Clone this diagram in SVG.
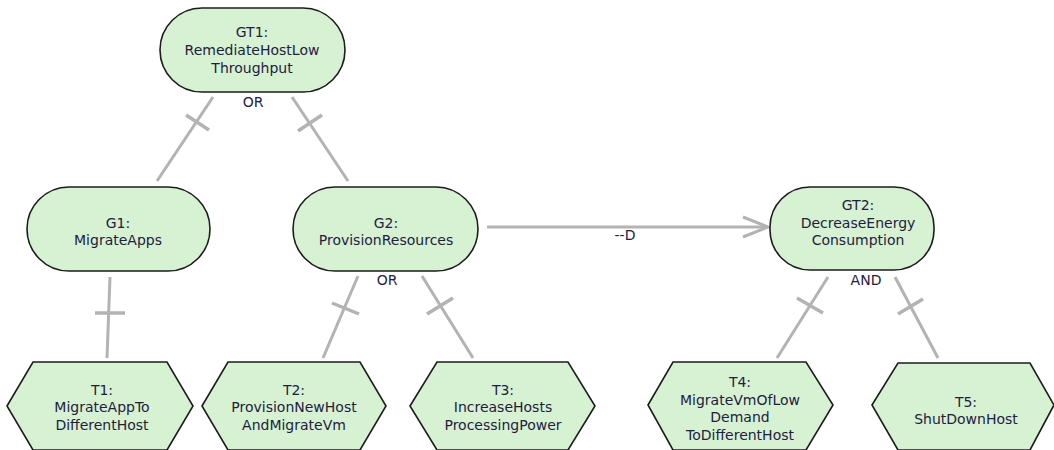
<svg xmlns="http://www.w3.org/2000/svg" width="1054" height="450" viewBox="0 0 1054 450">
  <style>
    .goal { fill: #d6f2d3; stroke: #1c1c1c; stroke-width: 1.6; }
    .task { fill: #d6f2d3; stroke: #1c1c1c; stroke-width: 1.6; stroke-linejoin: miter; }
    .lbl { font-family: "DejaVu Sans", "Noto Sans", sans-serif; font-size: 14px; fill: #1f2040; text-anchor: middle; }
    .link { stroke: #b3b3b3; stroke-width: 3; fill: none; stroke-linecap: butt; }
    .bar { stroke: #b3b3b3; stroke-width: 3.5; fill: none; }
  </style>
  <defs>
    <marker id="open-arrow" viewBox="0 0 28 24" refX="26" refY="12" markerWidth="28" markerHeight="24" markerUnits="userSpaceOnUse" orient="auto">
      <path d="M1,2 L26,12 L1,22" fill="none" stroke="#b3b3b3" stroke-width="3"/>
    </marker>
  </defs>
  <rect width="1054" height="450" fill="#ffffff"/>

  <!-- connectors: decomposition links with crossbars, and the dependency arrow -->
  <g id="connectors">
    <!-- GT1 -> G1 -->
    <line class="link" x1="213" y1="97" x2="157" y2="181"/>
    <line class="bar" x1="186" y1="115" x2="209" y2="130"/>
    <!-- GT1 -> G2 -->
    <line class="link" x1="292" y1="97" x2="348" y2="181"/>
    <line class="bar" x1="298" y1="131" x2="322" y2="115"/>
    <!-- G1 -> T1 -->
    <line class="link" x1="110" y1="277" x2="107" y2="358"/>
    <line class="bar" x1="95" y1="313" x2="125" y2="313"/>
    <!-- G2 -> T2 -->
    <line class="link" x1="358" y1="276" x2="323" y2="358"/>
    <line class="bar" x1="332" y1="303" x2="359" y2="314"/>
    <!-- G2 -> T3 -->
    <line class="link" x1="422" y1="276" x2="473" y2="358"/>
    <line class="bar" x1="427" y1="314" x2="453" y2="298"/>
    <!-- GT2 -> T4 -->
    <line class="link" x1="828" y1="277" x2="777" y2="358"/>
    <line class="bar" x1="797" y1="298" x2="823" y2="313"/>
    <!-- GT2 -> T5 -->
    <line class="link" x1="895" y1="277" x2="938" y2="358"/>
    <line class="bar" x1="898" y1="314" x2="923" y2="299"/>
    <!-- G2 depends on GT2 -->
    <line class="link" x1="487" y1="227" x2="768" y2="227" marker-end="url(#open-arrow)"/>
    <text class="lbl" x="625" y="240">--D</text>
  </g>

  <!-- goal nodes -->
  <g id="GT1">
    <rect class="goal" x="160" y="8" width="185" height="84" rx="42" ry="42"/>
    <text class="lbl" x="252" y="37">GT1:</text>
    <text class="lbl" x="252" y="55">RemediateHostLow</text>
    <text class="lbl" x="252" y="73">Throughput</text>
    <text class="lbl" x="253" y="107">OR</text>
  </g>
  <g id="G1">
    <rect class="goal" x="27" y="187" width="183" height="84" rx="42" ry="42"/>
    <text class="lbl" x="118" y="228">G1:</text>
    <text class="lbl" x="118" y="245">MigrateApps</text>
  </g>
  <g id="G2">
    <rect class="goal" x="293" y="187" width="185" height="84" rx="42" ry="42"/>
    <text class="lbl" x="386" y="228">G2:</text>
    <text class="lbl" x="386" y="245">ProvisionResources</text>
    <text class="lbl" x="387" y="285">OR</text>
  </g>
  <g id="GT2">
    <rect class="goal" x="770" y="187" width="164" height="83" rx="40" ry="40"/>
    <text class="lbl" x="858" y="210">GT2:</text>
    <text class="lbl" x="858" y="227.5">DecreaseEnergy</text>
    <text class="lbl" x="858" y="245">Consumption</text>
    <text class="lbl" x="866" y="285">AND</text>
  </g>

  <!-- task nodes -->
  <g id="T1">
    <polygon class="task" points="7,406 33,362 167,362 193,406 167,450 33,450"/>
    <text class="lbl" x="102" y="395">T1:</text>
    <text class="lbl" x="102" y="412">MigrateAppTo</text>
    <text class="lbl" x="102" y="430">DifferentHost</text>
  </g>
  <g id="T2">
    <polygon class="task" points="202,406 228,362 360,362 386,406 360,450 228,450"/>
    <text class="lbl" x="294" y="395">T2:</text>
    <text class="lbl" x="294" y="412">ProvisionNewHost</text>
    <text class="lbl" x="294" y="430">AndMigrateVm</text>
  </g>
  <g id="T3">
    <polygon class="task" points="410,406 437,362 568,362 595,406 568,450 437,450"/>
    <text class="lbl" x="503" y="395">T3:</text>
    <text class="lbl" x="503" y="412">IncreaseHosts</text>
    <text class="lbl" x="503" y="430">ProcessingPower</text>
  </g>
  <g id="T4">
    <polygon class="task" points="648,405 673,362 806,362 833,405 806,450 673,450"/>
    <text class="lbl" x="740" y="387">T4:</text>
    <text class="lbl" x="740" y="404.5">MigrateVmOfLow</text>
    <text class="lbl" x="740" y="422">Demand</text>
    <text class="lbl" x="740" y="439.5">ToDifferentHost</text>
  </g>
  <g id="T5">
    <polygon class="task" points="872,405 898,363 1030,363 1054,405 1030,450 898,450"/>
    <text class="lbl" x="966" y="407">T5:</text>
    <text class="lbl" x="966" y="424">ShutDownHost</text>
  </g>
</svg>
